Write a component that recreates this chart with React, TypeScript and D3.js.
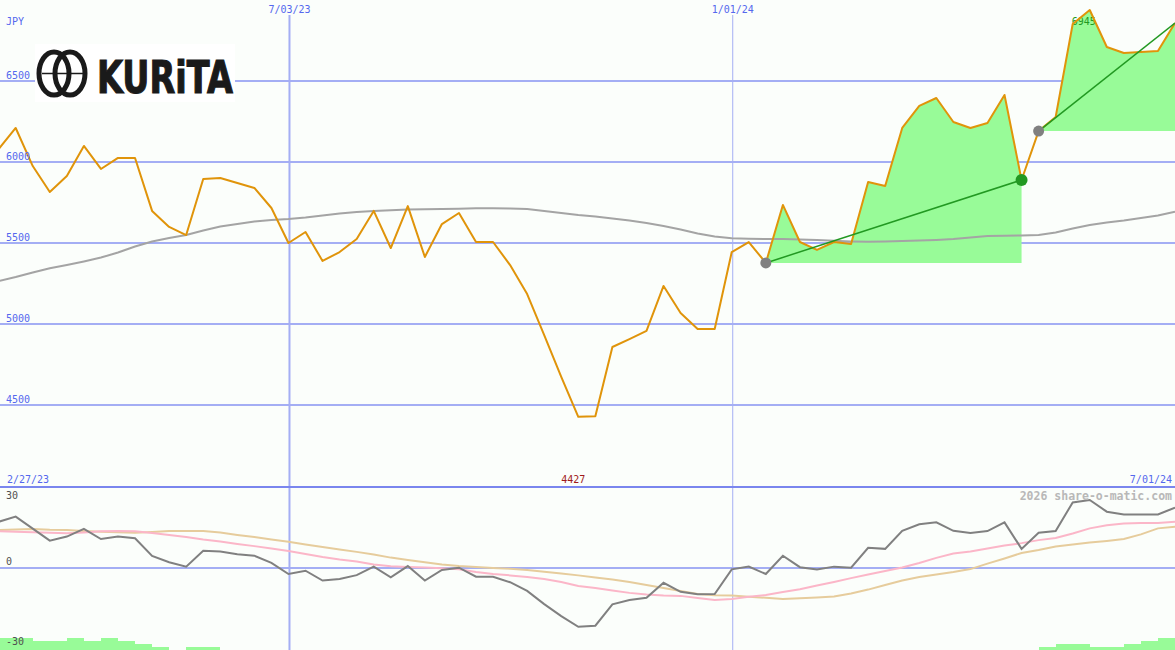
import React from 'react';
import * as d3 from 'd3';

const startDate = new Date(2023, 1, 27);
const endDate = new Date(2024, 6, 1);
const weekDates: Date[] = d3.range(1, 71).map((i) => d3.timeDay.offset(startDate, 7 * i));

const price = [
  6080, 6210, 5975, 5815, 5914, 6099, 5957, 6025, 6025, 5698,
  5599, 5549, 5895, 5901, 5870, 5840, 5716, 5500, 5568, 5389,
  5444, 5525, 5698, 5469, 5728, 5414, 5617, 5685, 5506, 5506,
  5364, 5185, 4932, 4673, 4427, 4430, 4858, 4907, 4957, 5235,
  5068, 4969, 4969, 5444, 5506, 5377, 5735, 5506, 5457, 5506,
  5494, 5877, 5852, 6210, 6346, 6395, 6247, 6210, 6241, 6414,
  5889, 6191, 6278, 6852, 6938, 6710, 6673, 6679, 6685, 6858,
];

const priceMA = [
  5265, 5290, 5318, 5344, 5364, 5386, 5410, 5441, 5478, 5509,
  5531, 5549, 5577, 5602, 5617, 5633, 5642, 5648, 5657, 5670,
  5682, 5691, 5698, 5702, 5707, 5708, 5710, 5712, 5714, 5714,
  5713, 5710, 5698, 5685, 5673, 5664, 5651, 5639, 5623, 5605,
  5583, 5559, 5540, 5529, 5527, 5525, 5525, 5522, 5519, 5514,
  5510, 5508, 5509, 5512, 5515, 5519, 5525, 5534, 5543, 5545,
  5546, 5549, 5565, 5590, 5611, 5627, 5639, 5654, 5670, 5693,
];

const momentum = [
  16.9, 18.8, 14.4, 10.0, 11.5, 14.3, 10.6, 11.5, 10.9, 4.4,
  2.1, 0.5, 6.3, 6.0, 5.0, 4.5, 1.9, -2.2, -1.0, -4.6,
  -4.0, -2.6, 0.5, -3.4, 0.7, -4.6, -0.7, 0.1, -3.2, -3.2,
  -5.2, -8.4, -13.2, -17.6, -21.5, -21.1, -13.3, -11.7, -10.9, -5.4,
  -8.7, -9.6, -9.5, -0.5, 0.5, -2.2, 4.5, 0.3, -0.5, 0.5,
  0.1, 7.4, 7.0, 13.6, 16.0, 16.7, 13.6, 12.8, 13.5, 16.7,
  7.0, 12.9, 13.5, 24.0, 24.9, 20.6, 19.6, 19.6, 19.6, 22.1,
];

const momentumFast = [
  13.5, 13.3, 13.1, 12.9, 12.7, 13.0, 13.4, 13.5, 13.4, 12.8,
  12.1, 11.3, 10.4, 9.7, 8.8, 8.0, 7.1, 6.2, 5.1, 4.0,
  3.1, 2.4, 1.3, 0.6, 0.4, 0.2, -0.1, -0.5, -1.5, -2.2,
  -2.7, -3.3, -4.0, -5.1, -6.6, -7.3, -8.2, -9.1, -9.7, -10.1,
  -10.2, -11.0, -11.7, -11.3, -10.5, -9.9, -8.8, -7.8, -6.4, -5.1,
  -3.7, -2.4, -1.1, 0.2, 1.8, 3.7, 5.3, 6.0, 7.1, 8.2,
  9.1, 10.2, 11.0, 12.6, 14.5, 15.6, 16.3, 16.5, 16.5, 16.9,
];

const momentumSlow = [
  13.9, 14.1, 14.3, 14.0, 13.9, 13.5, 13.3, 13.1, 12.9, 13.2,
  13.5, 13.5, 13.5, 13.0, 12.1, 11.3, 10.4, 9.6, 8.6, 7.7,
  6.8, 5.9, 4.9, 3.8, 2.9, 2.1, 1.3, 0.7, 0.4, 0.0,
  -0.3, -0.7, -1.4, -2.0, -2.7, -3.5, -4.2, -5.1, -6.2, -7.3,
  -8.4, -9.5, -10.0, -10.1, -10.5, -10.9, -11.3, -11.1, -10.8, -10.4,
  -9.3, -7.9, -6.2, -4.6, -3.3, -2.4, -1.5, -0.4, 1.6, 3.5,
  5.5, 6.6, 7.9, 8.6, 9.3, 9.9, 10.6, 12.3, 14.5, 15.1,
];

const bandLevels = [
  4, 4, 3, 3, 4, 3, 4, 3, 2, 1,
  0, 1, 1, 0, 0, 0, 0, 0, 0, 0,
  0, 0, 0, 0, 0, 0, 0, 0, 0, 0,
  0, 0, 0, 0, 0, 0, 0, 0, 0, 0,
  0, 0, 0, 0, 0, 0, 0, 0, 0, 0,
  0, 0, 0, 0, 0, 0, 0, 0, 0, 0,
  0, 1, 2, 2, 1, 1, 2, 3, 4, 0,
];

const priceTicks = [6500, 6000, 5500, 5000, 4500];
const momentumTicks = [30, 0, -30];
const momentumGrid = [0];
const dateMarks = [new Date(2023, 6, 3), new Date(2024, 0, 1)];
const dateMarkLabels = ['7/03/23', '1/01/24'];
const dateMarkWidths = [2, 1];
const startLabel = '2/27/23';
const endLabel = '7/01/24';
const currency = 'JPY';
const lowLabel = '4427';
const highLabel = '6945';
const watermark = '2026 share-o-matic.com';
const logoText = 'KURiTA';
const trendSegments: [number, number][] = [[45, 60], [61, 69]];

const W = 1175;
const H = 650;
const BG = '#fbfefb';
const GRID = '#a4aef4';
const LABEL = '#5468ee';
const PRICE = '#e0940a';
const FILL = '#98fb98';
const TREND = '#229922';
const MONO = '"DejaVu Sans Mono", monospace';
const INK = '#1a1a1a';

export default function App() {
  const x = d3.scaleTime().domain([startDate, endDate]).range([-18.4, 1175]);
  const yP = d3.scaleLinear().domain([4500, 6500]).range([405, 81]);
  const yM = d3.scaleLinear().domain([-30, 30]).range([650, 486]);
  const yB = d3.scaleLinear().domain([0, 4]).range([650, 638]);

  const xi = (i: number) => x(weekDates[i]);
  const priceLine = d3.line<number>().x((_, i) => xi(i)).y((d) => yP(d));
  const maLine = d3.line<number>().x((_, i) => xi(i)).y((d) => yP(d));
  const momLine = d3.line<number>().x((_, i) => xi(i)).y((d) => yM(d));

  const lowIdx = d3.minIndex(price);
  const highIdx = d3.maxIndex(price);

  const fills = trendSegments.map(([a, b]) => {
    const base = price[a];
    const idx = d3.range(a, b + 1);
    const area = d3
      .area<number>()
      .x((i) => xi(i))
      .y0(yP(base))
      .y1((i) => yP(Math.max(price[i], base)));
    return area(idx) as string;
  });

  const topY = yM.range()[1];

  return (
    <svg
      width={W}
      height={H}
      style={{ position: 'absolute', left: 0, top: 0, display: 'block' }}
      fontFamily={MONO}
    >
      <rect x={0} y={0} width={W} height={H} fill={BG} />

      {/* price grid */}
      {priceTicks.map((t) => (
        <line key={'g' + t} x1={0} x2={W} y1={yP(t)} y2={yP(t)} stroke={GRID} strokeWidth={2} />
      ))}
      {momentumGrid.map((t) => (
        <line key={'m' + t} x1={0} x2={W} y1={yM(t)} y2={yM(t)} stroke={GRID} strokeWidth={2} />
      ))}

      {/* date marks */}
      {dateMarks.map((d, k) => (
        <line
          key={'d' + k}
          x1={x(d) + 1}
          x2={x(d) + 1}
          y1={15}
          y2={H}
          stroke={GRID}
          strokeWidth={dateMarkWidths[k]}
        />
      ))}

      {/* separator */}
      <line x1={0} x2={W} y1={topY + 1} y2={topY + 1} stroke="#7a86ee" strokeWidth={2} />

      {/* logo */}
      <g>
        <rect x={35} y={44} width={200} height={58} fill="#ffffff" />
        <ellipse cx={54} cy={73.5} rx={15} ry={21.5} fill="none" stroke={INK} strokeWidth={5} />
        <ellipse cx={70} cy={73.5} rx={15} ry={21.5} fill="none" stroke={INK} strokeWidth={5} />
        <line x1={42} x2={83} y1={73.5} y2={73.5} stroke={INK} strokeWidth={1.5} />
        <text
          x={97}
          y={93}
          fontFamily='"DejaVu Sans", sans-serif'
          fontWeight={900}
          fontSize={44}
          fill={INK}
          stroke={INK}
          strokeWidth={1.2}
          textLength={136}
          lengthAdjust="spacingAndGlyphs"
        >
          {logoText}
        </text>
      </g>

      {/* fills */}
      {fills.map((p, k) => (
        <path key={'f' + k} d={p} fill={FILL} stroke="none" />
      ))}

      {/* moving average */}
      <path d={maLine(priceMA) as string} fill="none" stroke="#a4a4a4" strokeWidth={2} />

      {/* high label */}
      <text x={xi(highIdx) - 6} y={25} fontSize={10} fill={TREND} textAnchor="middle">
        {highLabel}
      </text>

      {/* price */}
      <path d={priceLine(price) as string} fill="none" stroke={PRICE} strokeWidth={2} strokeLinejoin="round" />

      {/* trend lines */}
      {trendSegments.map(([a, b], k) => (
        <line
          key={'t' + k}
          x1={xi(a)}
          y1={yP(price[a])}
          x2={xi(b)}
          y2={yP(price[b])}
          stroke={TREND}
          strokeWidth={1.5}
        />
      ))}
      {trendSegments.map(([a], k) => (
        <circle key={'c' + k} cx={xi(a)} cy={yP(price[a])} r={5.5} fill="#808080" />
      ))}
      <circle cx={xi(trendSegments[0][1])} cy={yP(price[trendSegments[0][1]])} r={6} fill={TREND} />

      {/* momentum panel */}
      {bandLevels.map((v, i) =>
        v > 0 && i < weekDates.length - 1 ? (
          <rect
            key={'b' + i}
            x={xi(i)}
            y={yB(v)}
            width={xi(i + 1) - xi(i)}
            height={yB(0) - yB(v)}
            fill={FILL}
            shapeRendering="crispEdges"
          />
        ) : null
      )}
      <path d={momLine(momentumSlow) as string} fill="none" stroke="#e6cc9c" strokeWidth={2} />
      <path d={momLine(momentumFast) as string} fill="none" stroke="#fbb6c8" strokeWidth={2} />
      <path d={momLine(momentum) as string} fill="none" stroke="#808080" strokeWidth={2} />

      {/* labels */}
      <text x={6} y={25} fontSize={10} fill={LABEL}>
        {currency}
      </text>
      {priceTicks.map((t) => (
        <text key={'l' + t} x={6} y={yP(t) - 2.5} fontSize={10} fill={LABEL}>
          {t}
        </text>
      ))}
      {dateMarks.map((d, k) => (
        <text key={'dl' + k} x={x(d) + 1} y={13} fontSize={10} fill={LABEL} textAnchor="middle">
          {dateMarkLabels[k]}
        </text>
      ))}
      <text x={7} y={topY - 3} fontSize={10} fill={LABEL}>
        {startLabel}
      </text>
      <text x={W - 3} y={topY - 3} fontSize={10} fill={LABEL} textAnchor="end">
        {endLabel}
      </text>
      <text x={xi(lowIdx) - 5} y={topY - 3} fontSize={10} fill="#a01a1a" textAnchor="middle">
        {lowLabel}
      </text>
      <text x={W - 3} y={500} fontSize={11.5} fontWeight="bold" fill="#b8b8b8" textAnchor="end">
        {watermark}
      </text>
      {momentumTicks.map((t) => (
        <text
          key={'mt' + t}
          x={6}
          y={t === 30 ? yM(t) + 13 : t === 0 ? yM(t) - 3 : yM(t) - 5}
          fontSize={10}
          fill="#505050"
        >
          {t}
        </text>
      ))}
    </svg>
  );
}
